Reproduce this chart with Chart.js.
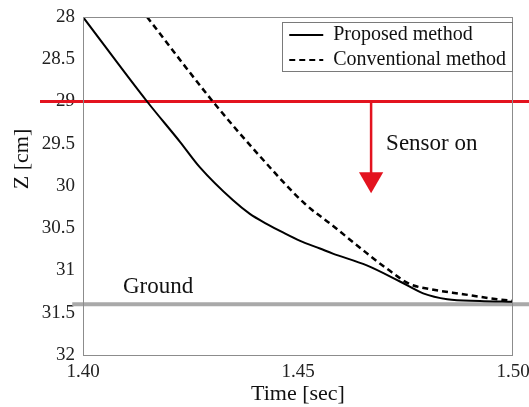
<!DOCTYPE html>
<html>
<head>
<meta charset="utf-8">
<script src="https://cdn.jsdelivr.net/npm/chart.js@4.4.1/dist/chart.umd.min.js"></script>
<style>
    html, body { margin: 0; padding: 0; background: #fff; }
</style>
</head>
<body>
<canvas id="zChart" width="529" height="407"></canvas>
<script>
// data
const proposedTime = [1.400, 1.4149, 1.4226, 1.4272, 1.4349, 1.4388, 1.4428, 1.4465, 1.4505, 1.4551, 1.4581, 1.4660, 1.4737, 1.4791, 1.4847, 1.4923, 1.500];
const proposedZ    = [28.00, 29.00, 29.48, 29.78, 30.17, 30.33, 30.45, 30.55, 30.65, 30.74, 30.80, 30.94, 31.13, 31.27, 31.34, 31.36, 31.37];

const conventionalTime = [1.4149, 1.4302, 1.4410, 1.4516, 1.4581, 1.4644, 1.4707, 1.4760, 1.4807, 1.4884, 1.4963, 1.500];
const conventionalZ    = [28.00, 29.00, 29.64, 30.21, 30.47, 30.73, 30.98, 31.16, 31.22, 31.28, 31.34, 31.36];

// reference lines (they run past the plot box in the figure)
const sensorLineTime = [1.390, 1.512];
const sensorLineZ    = [29.0, 29.0];
const groundLineTime = [1.3975, 1.512];
const groundLineZ    = [31.4, 31.4];

// "Sensor on" arrow
const arrowTime = [1.467, 1.467];
const arrowZ    = [29.0, 29.92];

const xTicks = [1.40, 1.45, 1.50];
const yTicks = [28, 28.5, 29, 29.5, 30, 30.5, 31, 31.5, 32];

const toPoints = (xs, ys) => xs.map((x, i) => ({ x: x, y: ys[i] }));

const serif = "'Liberation Serif', 'DejaVu Serif', serif";
const red = '#e3131f';

// text labels, box around the plot, legend placement and frame
const figurePlugin = {
    id: 'figureExtras',
    afterLayout(chart) {
        const legend = chart.legend;
        const ca = chart.chartArea;
        const pad = legend.options.labels.padding;
        const colWidth = legend.columnSizes[0].width;
        const lineStart = ca.right - 7 - colWidth;
        legend.left = lineStart - pad;
        legend.right = lineStart + colWidth + pad;
        legend.top = ca.top + 3;
    },
    afterDraw(chart) {
        const ctx = chart.ctx;
        const ca = chart.chartArea;
        const xs = chart.scales.x;
        const ys = chart.scales.y;

        ctx.save();
        // plot frame
        ctx.strokeStyle = '#8c8c8c';
        ctx.lineWidth = 1;
        ctx.strokeRect(ca.left + 0.5, ca.top + 0.5, ca.right - ca.left - 1, ca.bottom - ca.top);

        // legend frame
        const boxes = chart.legend.legendHitBoxes;
        if (boxes && boxes.length) {
            const l = Math.min(...boxes.map(b => b.left)) - 7;
            const t = Math.min(...boxes.map(b => b.top)) - 3;
            const r = Math.max(...boxes.map(b => b.left + b.width)) + 6;
            const bt = Math.max(...boxes.map(b => b.top + b.height)) + 1;
            ctx.strokeStyle = '#7a7a7a';
            ctx.strokeRect(Math.round(l) + 0.5, Math.round(t) + 0.5, Math.round(r - l), Math.round(bt - t));
        }

        // annotations
        ctx.fillStyle = '#111';
        ctx.font = '23px ' + serif;
        ctx.textAlign = 'left';
        ctx.textBaseline = 'middle';
        ctx.fillText('Sensor on', xs.getPixelForValue(arrowTime[0]) + 15, ys.getPixelForValue(29.5));
        ctx.fillText('Ground', ca.left + 40, ys.getPixelForValue(groundLineZ[0]) - 17);

        // y axis title, sits a bit above the middle in the figure
        ctx.font = '22px ' + serif;
        ctx.textAlign = 'center';
        ctx.translate(22, ca.top + (ca.bottom - ca.top) * 0.42);
        ctx.rotate(-Math.PI / 2);
        ctx.fillText('Z [cm]', 0, 0);
        ctx.restore();
    }
};

const ctx = document.getElementById('zChart').getContext('2d');
new Chart(ctx, {
    type: 'line',
    data: {
        datasets: [
            {
                label: 'Proposed method',
                data: toPoints(proposedTime, proposedZ),
                borderColor: '#000',
                backgroundColor: '#000',
                borderWidth: 2,
                pointRadius: 0,
                pointStyle: 'line',
                cubicInterpolationMode: 'monotone'
            },
            {
                label: 'Conventional method',
                data: toPoints(conventionalTime, conventionalZ),
                borderColor: '#000',
                backgroundColor: '#000',
                borderWidth: 2.5,
                borderDash: [6, 4],
                pointRadius: 0,
                pointStyle: 'line',
                cubicInterpolationMode: 'monotone'
            },
            {
                label: 'arrow',
                data: toPoints(arrowTime, arrowZ),
                borderColor: red,
                backgroundColor: red,
                borderWidth: 2.5,
                pointRadius: [0, 14],
                pointStyle: 'triangle',
                rotation: 180,
                pointBorderWidth: 0,
                clip: false
            },
            {
                label: 'sensor',
                data: toPoints(sensorLineTime, sensorLineZ),
                borderColor: red,
                borderWidth: 3,
                pointRadius: 0,
                clip: false
            },
            {
                label: 'ground',
                data: toPoints(groundLineTime, groundLineZ),
                borderColor: '#a9a9a9',
                borderWidth: 4,
                pointRadius: 0,
                clip: false
            }
        ]
    },
    options: {
        responsive: false,
        animation: false,
        devicePixelRatio: 1,
        layout: {
            padding: { left: 0, top: 17, right: 16, bottom: 0 }
        },
        plugins: {
            tooltip: { enabled: false },
            legend: {
                position: 'chartArea',
                align: 'start',
                labels: {
                    filter: item => item.datasetIndex < 2,
                    usePointStyle: true,
                    pointStyleWidth: 34,
                    padding: 5,
                    color: '#111',
                    font: { family: serif, size: 20 },
                    generateLabels: chart => {
                        const items = Chart.defaults.plugins.legend.labels.generateLabels(chart);
                        items.forEach(item => {
                            const ds = chart.data.datasets[item.datasetIndex];
                            item.lineDash = ds.borderDash || [];
                            item.lineWidth = 1.8;
                            item.strokeStyle = '#000';
                        });
                        return items;
                    }
                }
            }
        },
        scales: {
            x: {
                type: 'linear',
                min: 1.40,
                max: 1.50,
                afterBuildTicks: axis => { axis.ticks = xTicks.map(v => ({ value: v })); },
                afterFit: scale => {
                    scale.height = 52;
                    scale.paddingLeft = 0;
                    scale.paddingRight = 0;
                },
                grid: { display: false, drawTicks: false },
                border: { display: false },
                ticks: {
                    color: '#222',
                    padding: 6,
                    maxRotation: 0,
                    font: { family: serif, size: 19 },
                    callback: v => v.toFixed(2)
                },
                title: {
                    display: true,
                    text: 'Time [sec]',
                    color: '#111',
                    padding: { top: 0, bottom: 0 },
                    font: { family: serif, size: 22 }
                }
            },
            y: {
                type: 'linear',
                reverse: true,
                min: 28,
                max: 32,
                afterBuildTicks: axis => { axis.ticks = yTicks.map(v => ({ value: v })); },
                afterFit: scale => {
                    scale.width = 83;
                    scale.paddingTop = 0;
                    scale.paddingBottom = 0;
                },
                grid: { display: false, drawTicks: false },
                border: { display: false },
                ticks: {
                    color: '#222',
                    padding: 8,
                    font: { family: serif, size: 19 },
                    callback: v => String(v)
                }
            }
        }
    },
    plugins: [figurePlugin]
});
</script>
</body>
</html>
